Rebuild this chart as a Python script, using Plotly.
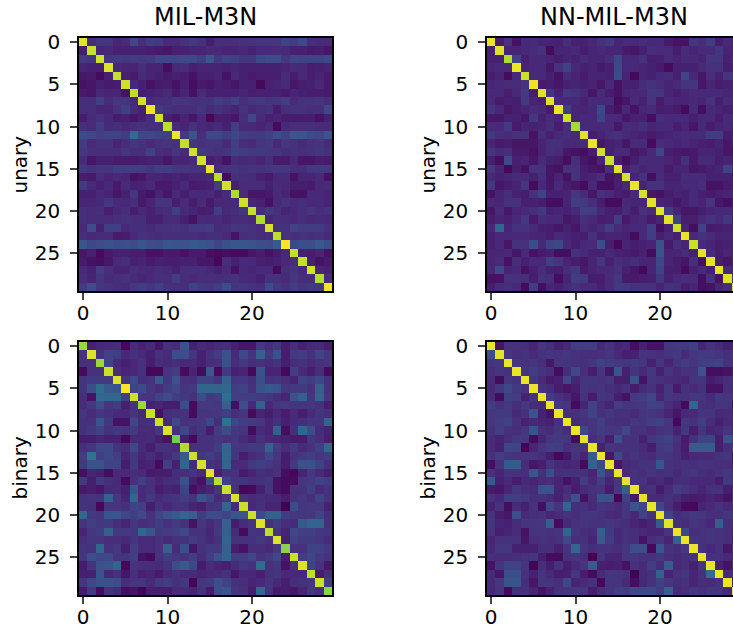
import plotly.graph_objects as go

axis_ticks_x = [0, 10, 20]
axis_ticks_y = [0, 5, 10, 15, 20, 25]
titles = ["MIL-M3N", "NN-MIL-M3N"]
row_labels = ["unary", "binary"]

unary_mil = [
[96,13,16,15,10,12,21,13,18,17,12,12,14,17,14,8,13,13,13,14,14,15,15,15,20,18,22,13,12,11],
[8,91,10,11,9,9,9,9,8,7,6,9,9,10,10,12,11,10,10,11,9,11,11,12,11,9,9,7,8,6],
[17,16,93,15,17,16,17,16,17,21,21,21,22,22,19,27,16,20,19,15,15,22,23,23,16,21,20,20,20,22],
[10,9,9,95,11,10,10,13,10,10,4,12,13,9,10,10,10,9,10,9,9,9,9,9,10,12,11,8,9,10],
[6,7,3,9,91,9,7,12,10,9,7,9,8,5,9,9,10,5,11,9,7,8,8,8,12,8,11,8,10,7],
[5,6,9,7,8,93,11,9,5,7,8,5,9,4,7,6,9,8,6,9,9,2,9,10,12,6,8,9,11,7],
[7,6,11,10,10,5,90,8,9,10,12,7,10,5,12,9,9,9,9,10,8,9,9,9,7,10,9,8,8,7],
[13,13,19,12,16,15,11,93,12,13,13,16,15,14,14,14,18,16,19,13,16,17,15,16,18,12,14,14,15,13],
[13,13,10,10,14,19,12,9,98,17,14,13,13,13,15,12,14,12,10,14,11,13,14,8,13,14,14,13,13,21],
[8,12,14,11,8,9,6,9,13,93,9,6,10,6,11,2,8,8,6,13,22,12,9,10,8,8,8,8,5,9],
[13,12,18,12,13,11,13,14,13,13,90,12,10,14,11,10,11,9,18,12,12,10,12,3,11,13,13,13,12,12],
[23,22,19,20,20,18,34,22,22,20,19,97,17,27,13,22,22,19,22,18,17,17,19,24,20,27,27,23,22,27],
[18,12,14,14,10,13,15,14,12,14,15,14,91,16,14,15,15,12,19,13,12,15,16,11,16,14,12,14,15,12],
[16,13,13,13,13,15,13,13,20,13,11,15,12,93,17,15,14,15,20,18,17,17,15,15,13,14,13,14,16,14],
[12,6,9,9,7,7,7,8,9,9,6,10,10,12,93,8,10,5,12,11,12,10,13,7,7,11,6,6,8,7],
[16,14,15,15,18,18,18,18,15,18,18,16,15,14,14,97,12,14,15,14,15,14,15,16,16,13,13,17,17,16],
[8,7,13,10,11,10,5,6,10,10,9,10,9,10,10,11,89,3,14,13,12,9,7,11,12,5,10,10,11,5],
[17,12,9,11,7,11,9,10,11,7,7,9,11,7,8,9,18,93,9,12,12,12,9,12,11,8,8,7,11,12],
[9,9,11,10,6,9,15,7,5,10,6,12,8,12,11,12,9,12,88,12,6,6,7,12,10,5,5,11,11,10],
[10,10,12,16,12,11,13,7,10,15,15,8,12,8,12,7,11,11,12,93,10,9,5,12,14,12,13,11,12,10],
[13,12,13,8,11,13,8,11,9,11,13,19,12,10,8,9,18,11,13,15,91,12,16,14,10,11,13,15,13,14],
[13,12,12,12,13,14,13,13,9,9,12,12,9,5,12,11,12,10,12,12,11,88,10,13,13,11,13,11,12,11],
[12,23,9,19,19,11,13,13,12,14,14,15,14,17,17,18,12,13,16,15,14,12,94,14,14,20,18,18,18,14],
[13,11,12,12,7,8,11,14,13,12,13,13,13,13,11,13,13,11,5,13,14,12,13,90,14,13,14,13,14,12],
[27,22,23,25,23,24,23,27,24,23,27,26,26,28,27,25,21,25,27,27,26,24,23,28,99,22,24,24,28,23],
[6,9,3,7,9,9,8,8,5,5,7,7,5,7,7,4,3,4,3,3,6,8,5,8,11,91,9,8,10,5],
[7,5,4,6,11,13,9,10,7,9,8,8,9,9,6,6,2,13,9,11,11,9,8,9,11,13,91,9,5,7],
[11,9,18,13,10,10,13,12,11,13,12,9,13,13,13,11,9,11,5,11,10,11,11,3,13,15,12,93,10,9],
[13,10,15,12,13,14,12,10,11,13,13,18,13,11,13,13,13,13,14,12,11,9,14,14,12,16,13,13,88,12],
[17,24,16,14,13,12,17,18,16,19,14,13,13,20,17,16,18,24,15,16,14,13,23,16,14,18,15,17,17,98],
]

unary_nn = [
[97,7,14,5,11,12,10,10,9,13,9,9,11,14,17,10,11,11,13,11,11,7,5,5,15,13,18,8,11,9],
[9,95,10,10,11,12,14,3,10,10,11,8,10,11,10,10,7,6,9,13,12,12,8,12,10,12,12,16,10,9],
[9,9,88,20,9,12,11,10,8,10,9,12,10,10,13,21,11,11,14,8,9,11,10,12,11,10,15,15,9,14],
[10,11,11,97,10,11,11,6,14,20,11,9,10,7,9,22,11,11,10,9,7,3,9,9,9,12,14,14,8,10],
[8,10,3,11,92,12,11,9,5,12,10,7,10,10,9,23,10,2,10,9,11,12,9,21,11,6,13,9,15,15],
[10,11,12,12,14,97,7,8,6,9,10,9,10,6,11,5,9,9,13,14,12,10,12,15,15,6,10,8,9,10],
[11,11,8,11,17,8,95,15,9,16,14,11,6,12,8,5,10,11,11,16,15,10,8,10,12,11,11,11,10,10],
[11,7,9,8,17,10,9,96,11,11,11,9,12,11,11,3,6,12,9,15,7,11,10,10,11,10,14,8,12,10],
[15,11,6,8,10,12,11,7,97,18,10,10,11,22,8,5,11,5,10,12,8,9,7,3,11,4,11,10,9,9],
[6,6,9,9,6,16,9,12,10,93,10,11,11,20,11,11,6,9,9,4,13,11,11,11,9,11,11,8,11,11],
[12,11,18,7,10,9,10,13,8,13,86,11,11,11,11,6,12,11,13,10,11,11,8,10,6,11,8,10,11,8],
[17,13,12,14,14,5,13,9,11,13,11,95,8,10,13,14,11,10,9,7,9,10,11,12,12,12,18,18,8,9],
[10,7,8,6,6,6,10,13,13,11,12,12,97,6,9,10,6,12,12,3,13,11,10,11,10,9,8,10,6,10],
[15,12,13,7,7,5,10,13,12,6,5,4,8,93,9,12,12,6,8,11,21,8,7,6,7,10,10,9,6,5],
[8,4,22,9,10,6,12,9,8,4,13,6,4,10,92,8,4,8,12,11,11,10,8,14,7,12,11,8,10,7],
[16,10,2,8,5,14,14,6,5,14,14,8,6,5,13,96,8,13,10,11,11,7,10,10,6,7,9,10,20,10],
[11,9,10,12,11,9,13,6,10,5,14,9,10,13,5,8,93,10,14,4,12,9,9,12,12,12,9,9,9,5],
[16,6,8,10,15,3,11,6,12,8,6,3,11,4,4,8,11,97,10,14,14,10,10,11,11,13,5,5,7,8],
[5,10,13,9,8,14,20,9,9,10,16,12,6,14,12,9,7,12,94,6,5,8,10,9,11,9,7,9,10,11],
[11,10,14,14,9,9,8,4,4,10,18,17,13,8,3,3,11,10,10,96,10,9,6,9,11,10,15,6,4,7],
[6,12,6,10,11,13,17,9,10,9,11,19,18,11,9,8,12,8,14,12,96,18,10,6,6,8,10,11,11,8],
[8,10,9,11,16,7,13,11,11,6,8,13,11,8,9,18,7,10,11,7,10,96,19,8,8,11,14,11,16,9],
[11,33,10,14,14,12,9,8,6,9,6,12,10,12,18,12,10,11,11,19,4,9,92,10,4,20,7,8,9,9],
[9,11,11,11,11,10,10,8,11,10,9,8,14,9,10,10,9,3,11,18,8,11,9,97,11,14,12,10,10,10],
[9,11,6,14,14,24,11,20,22,11,8,11,12,24,8,2,10,8,9,10,25,7,13,10,92,12,10,8,9,10],
[10,10,11,6,11,5,7,9,4,4,14,11,9,9,11,9,8,7,9,3,26,10,10,12,9,96,12,8,10,9],
[10,12,5,13,9,11,11,19,15,10,8,6,10,15,9,13,11,13,10,10,22,10,8,6,13,4,96,8,6,11],
[11,22,10,11,5,9,13,9,8,13,16,7,10,11,11,14,9,6,2,10,20,8,8,3,9,12,9,96,12,8],
[5,5,14,14,13,8,14,13,4,10,18,17,8,8,12,16,7,7,8,9,16,9,11,13,12,4,14,5,95,14],
[8,12,13,11,3,18,4,10,9,12,14,12,12,9,12,17,17,14,14,14,10,14,13,8,10,4,5,10,13,96],
]

binary_mil = [
[85,9,11,12,13,2,12,9,11,6,14,12,25,9,12,10,12,13,9,6,6,17,13,16,8,13,9,11,12,8],
[14,95,14,20,19,11,14,12,9,14,12,24,24,15,9,14,18,25,12,22,15,30,17,25,8,17,18,14,21,16],
[14,14,85,20,11,9,11,14,8,13,11,13,11,12,9,13,14,25,13,16,13,14,12,14,8,13,14,12,14,15],
[3,14,14,92,13,10,11,14,2,2,15,18,3,10,3,28,3,17,9,10,2,25,10,10,2,18,12,8,13,3],
[15,17,17,17,95,15,22,13,14,28,15,25,14,13,20,20,15,30,15,16,13,24,14,15,13,10,20,18,22,14],
[15,24,35,28,26,100,20,23,15,13,18,21,15,17,32,32,32,33,18,20,14,25,28,26,16,17,17,14,30,14],
[13,5,33,33,33,19,92,15,15,20,23,18,16,14,23,17,18,36,19,18,19,17,15,13,10,25,30,15,32,15],
[13,16,24,15,18,9,15,85,9,10,8,8,24,3,17,17,16,30,4,24,11,30,11,15,17,15,15,16,14,8],
[15,12,16,14,11,11,15,11,92,5,13,14,14,3,15,15,16,19,13,16,3,10,8,11,8,12,8,12,15,13],
[14,14,27,17,5,5,21,13,14,93,12,22,14,15,16,22,13,38,21,18,18,15,10,14,9,11,13,15,15,32],
[14,17,20,14,17,15,17,12,12,16,95,14,22,13,16,8,18,23,16,15,3,12,10,30,4,13,33,24,12,9],
[8,8,10,9,9,2,11,11,12,8,5,78,8,2,14,14,16,14,15,12,9,14,11,10,9,7,7,15,13,8],
[13,15,21,22,14,13,22,11,8,14,14,12,88,14,14,14,18,32,16,15,17,17,30,18,13,17,12,14,19,33],
[18,38,18,22,19,10,16,10,13,9,12,17,28,92,16,18,14,33,15,8,12,14,22,16,8,14,17,19,15,18],
[17,25,26,20,20,8,17,9,10,3,19,9,32,12,94,14,13,32,12,12,17,19,17,14,8,17,25,25,20,13],
[4,10,9,4,11,12,13,11,7,8,8,13,13,15,12,96,9,14,14,7,10,13,12,14,4,2,10,16,12,8],
[17,8,17,13,12,3,14,19,14,10,13,13,25,9,5,24,90,20,15,15,13,14,15,5,3,3,16,17,20,18],
[7,8,6,11,12,9,27,12,14,8,10,9,20,4,8,10,16,92,14,2,3,9,15,5,3,14,14,19,12,14],
[14,15,14,30,16,10,32,11,17,12,14,15,18,14,26,20,12,15,94,14,12,13,12,11,8,14,16,13,20,14],
[14,14,2,15,15,14,20,19,8,14,11,14,14,10,8,14,15,32,12,92,11,14,10,10,0,23,16,17,16,9],
[33,17,15,27,27,21,19,22,14,21,26,28,32,30,18,23,23,21,26,26,93,22,30,30,18,16,15,16,20,13],
[15,19,16,17,13,10,16,13,14,18,14,17,14,5,15,12,15,30,8,12,15,95,14,18,13,12,28,32,32,14],
[10,16,18,30,17,17,15,33,27,17,18,19,22,14,14,10,17,30,12,3,15,14,90,15,10,22,19,19,16,15],
[13,15,15,13,13,11,15,12,12,14,12,14,14,18,15,11,14,32,14,14,14,17,14,95,9,20,17,17,15,12],
[15,14,33,14,16,9,18,12,12,14,30,12,24,6,14,17,17,30,8,5,13,13,11,16,82,14,14,20,20,16],
[15,24,21,22,15,15,19,5,3,14,19,16,14,18,13,19,26,32,18,18,21,14,17,22,8,92,18,21,17,14],
[8,15,25,26,32,2,15,13,13,12,14,24,28,22,7,12,10,9,12,16,14,35,14,15,5,14,95,20,14,6],
[9,9,26,11,14,6,13,9,10,7,12,14,11,12,10,11,12,14,6,11,11,9,14,15,11,11,11,90,7,13],
[15,22,25,25,24,13,15,15,12,17,18,14,16,1,16,17,24,20,14,13,10,11,15,11,8,13,14,15,92,18],
[7,17,3,14,12,4,5,1,8,8,8,12,11,10,14,7,24,27,15,14,8,33,14,7,8,6,10,16,13,82],
]

binary_nn = [
[97,5,14,14,13,10,15,13,9,11,18,18,18,11,14,10,11,4,9,5,5,16,17,17,19,10,14,12,9,9],
[24,96,15,13,14,12,14,15,14,16,14,13,13,14,15,11,9,9,15,14,13,15,16,12,16,17,17,15,13,17],
[15,16,97,16,14,15,13,6,15,15,14,14,16,20,18,16,15,17,15,9,15,10,15,18,15,18,19,20,14,13],
[13,15,14,97,15,18,15,13,3,13,22,13,8,15,6,27,9,15,12,16,9,15,12,14,14,26,4,4,5,8],
[12,3,16,14,97,15,12,7,9,22,10,15,15,14,16,8,8,25,5,15,14,12,11,10,15,15,8,10,13,13],
[11,16,22,17,15,97,14,12,8,6,8,15,14,15,13,11,14,8,12,14,9,16,7,14,12,14,5,5,13,12],
[12,3,19,18,9,15,97,18,14,11,6,14,7,15,14,8,5,17,18,21,10,16,14,14,16,15,12,17,15,12],
[18,14,17,13,17,13,12,97,17,15,3,10,20,13,10,18,15,15,16,20,19,13,10,3,32,14,13,15,15,4],
[15,17,17,12,14,26,9,5,97,14,14,15,20,14,16,14,14,12,15,16,14,10,6,11,12,15,15,11,12,9],
[15,18,20,14,9,11,10,9,14,97,12,14,15,19,14,13,13,16,15,18,20,15,2,16,14,19,13,9,11,10],
[14,19,14,13,15,26,14,12,16,13,97,22,15,18,16,16,22,14,14,12,14,15,9,16,8,15,10,11,15,10],
[12,10,13,17,16,3,10,15,17,16,3,96,13,15,8,24,14,14,9,15,18,20,14,7,14,20,20,8,25,20],
[12,9,21,20,1,10,15,19,18,13,15,15,97,9,15,14,14,14,12,8,16,18,13,8,28,28,28,8,13,16],
[14,18,15,14,15,15,13,8,2,6,14,10,28,97,6,22,13,15,13,12,16,15,13,9,11,12,12,14,15,5],
[4,14,28,28,13,6,8,15,11,10,11,3,30,22,97,6,12,13,14,14,27,14,13,14,13,14,14,13,13,8],
[14,10,14,14,13,27,14,24,13,14,14,14,10,26,15,97,12,14,13,15,13,14,11,14,15,13,12,14,16,13],
[28,9,12,8,11,10,12,13,10,5,9,18,11,18,10,16,96,14,14,10,12,9,13,13,11,11,11,8,17,14],
[7,6,10,16,13,12,25,25,10,13,8,12,14,15,8,17,30,97,13,14,7,12,18,15,13,10,14,14,8,12],
[14,11,18,18,17,13,14,12,9,15,25,5,13,25,25,1,19,7,96,12,12,14,12,8,7,8,10,8,5,14],
[9,14,4,12,9,14,4,22,15,32,13,14,11,15,14,12,15,25,21,97,22,13,8,3,2,10,12,14,11,13],
[14,8,6,24,12,13,14,10,12,14,13,15,15,14,12,11,15,11,20,14,97,20,13,14,16,16,13,13,15,13],
[15,10,9,12,15,15,16,30,3,11,14,15,14,14,16,14,13,10,8,10,28,96,14,13,15,14,11,30,13,10],
[14,8,10,12,5,15,15,14,15,32,15,13,12,30,17,11,14,13,12,10,10,15,97,22,13,14,15,14,13,9],
[10,14,14,14,6,13,14,13,14,22,13,14,10,28,18,11,14,13,5,13,15,10,30,97,15,14,15,14,13,8],
[11,16,16,9,9,9,13,13,9,15,33,15,13,14,14,13,16,24,24,2,27,14,13,16,97,14,11,14,6,14],
[13,12,12,13,14,15,8,3,3,14,15,13,0,15,10,10,15,15,14,14,17,13,12,13,15,97,14,14,11,12],
[5,15,20,20,15,1,13,8,14,8,11,15,28,9,8,9,5,14,12,18,12,28,11,13,9,15,97,9,5,13],
[12,6,24,24,14,9,15,11,8,9,16,8,3,12,15,15,14,0,12,14,30,10,14,16,10,14,35,97,12,13],
[12,16,26,26,13,6,15,15,13,22,10,12,14,2,15,15,12,4,11,14,20,15,13,14,10,13,12,14,97,9],
[11,15,2,13,14,10,5,9,14,15,16,15,8,13,15,18,18,22,22,22,18,30,12,13,16,14,16,15,11,97],
]

panels = [
    (unary_mil, "x", "y", [79, 332], [38, 291], 0),
    (unary_nn, "x2", "y2", [487, 733], [38, 291], 1),
    (binary_mil, "x3", "y3", [79, 332], [342, 595], 0),
    (binary_nn, "x4", "y4", [487, 733], [342, 595], 1),
]
W, H = 733, 633
fig = go.Figure()
annotations = []
layout = dict(template="none", width=W, height=H, margin=dict(l=0, r=0, t=0, b=0, pad=0), autosize=False,
              paper_bgcolor="white", plot_bgcolor="white", showlegend=False,
              font=dict(family="DejaVu Sans", color="black"))
for i, (z, xa, ya, xd, yd, col) in enumerate(panels):
    assert len(z) == 30 and all(len(r) == 30 for r in z), i
    fig.add_trace(go.Heatmap(z=z, xaxis=xa, yaxis=ya, zmin=0, zmax=100, colorscale="Viridis",
                             showscale=False, xgap=0, ygap=0, hoverinfo="skip"))
    sfx = "" if i == 0 else str(i + 1)
    x_end = -0.5 + 30 * (xd[1] - xd[0]) / 253.0
    layout["xaxis" + sfx] = dict(domain=[xd[0] / W, xd[1] / W], range=[-0.5, x_end], anchor=ya,
                                 automargin=False, tickvals=axis_ticks_x, ticks="outside", ticklen=7,
                                 tickwidth=1.5, ticklabelstandoff=-4, tickfont=dict(size=20),
                                 showgrid=False, zeroline=False, showline=True, linecolor="black",
                                 linewidth=1.5, mirror=True)
    layout["yaxis" + sfx] = dict(domain=[1 - yd[1] / H, 1 - yd[0] / H], range=[29.5, -0.5], anchor=xa,
                                 automargin=False, tickvals=axis_ticks_y, ticks="outside", ticklen=7,
                                 tickwidth=1.5, ticklabelstandoff=6, tickfont=dict(size=20),
                                 showgrid=False, zeroline=False, showline=True, linecolor="black",
                                 linewidth=1.5, mirror=(col == 0))
    if i < 2:
        annotations.append(dict(text=titles[i], xref="paper", yref="paper", x=(xd[0] + 253 / 2) / W,
                                y=1 - 17 / H, xanchor="center", yanchor="middle", showarrow=False,
                                font=dict(size=24)))
    annotations.append(dict(text=row_labels[i // 2], xref="paper", yref="paper", x=(xd[0] - 60) / W,
                            y=1 - (yd[0] + yd[1]) / 2 / H, xanchor="center", yanchor="middle",
                            textangle=-90, showarrow=False, font=dict(size=20)))
layout["annotations"] = annotations
fig.update_layout(**layout)
fig.write_html("out.html", config={"displayModeBar": False},
               post_script="document.body.style.margin='0';document.documentElement.style.overflow='hidden';")
